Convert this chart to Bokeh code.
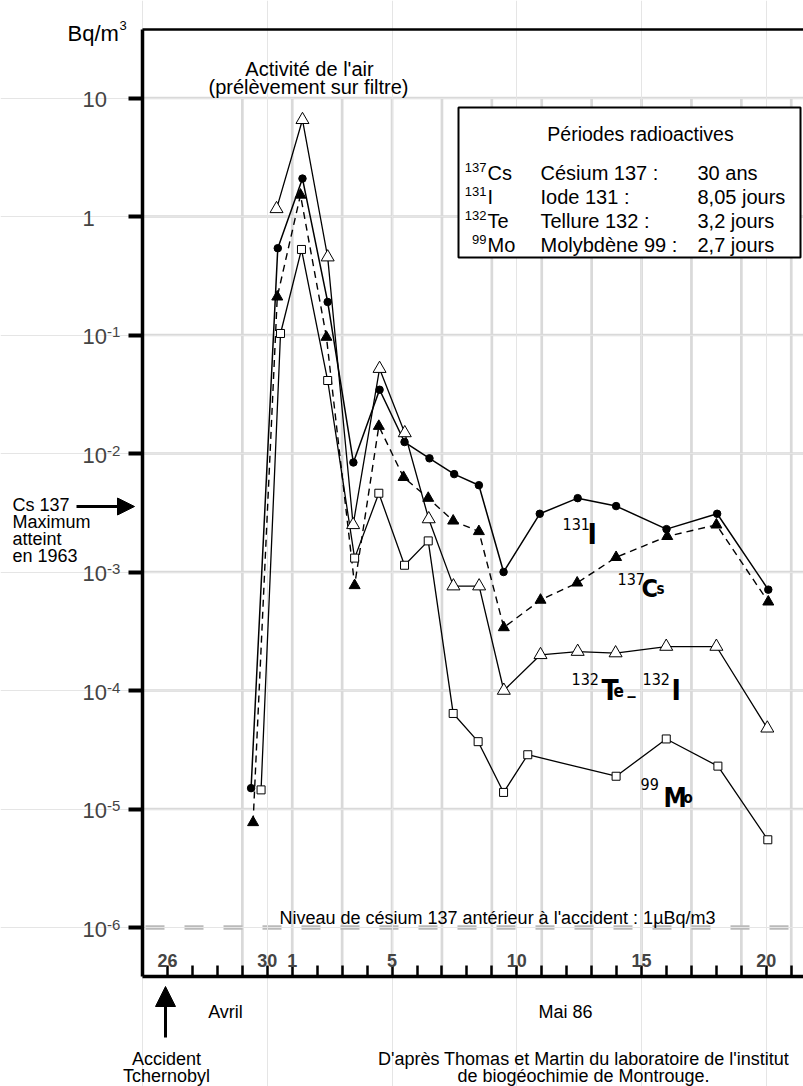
from bokeh.plotting import figure
from bokeh.models import (Range1d, LinearAxis, LogAxis, FixedTicker,
                          BoxAnnotation, Label, Arrow, NormalHead, CustomJSTickFormatter)
from bokeh.embed import file_html
from bokeh.resources import INLINE

# ---------------- data (day: 26 = 26 avril, 31 = 1 mai, 50 = 20 mai) ----------------
i131_day = [29.35, 30.42, 31.41, 32.42, 33.45, 34.5, 35.5, 36.5, 37.49, 38.48, 39.47,
            40.92, 42.44, 43.98, 46.0, 48.03, 50.08]
i131_val = [1.5e-5, 0.54, 2.09, 0.19, 0.0084, 0.0345, 0.0125, 0.0091, 0.0067, 0.0054, 0.001,
            0.0031, 0.0042, 0.0036, 0.0023, 0.0031, 0.00071]

cs137_day = [29.43, 30.4, 31.33, 32.37, 33.5, 34.47, 35.46, 36.45, 37.45, 38.48, 39.48,
             40.95, 42.42, 43.98, 46.03, 48.0, 50.08]
cs137_val = [7.7e-6, 0.21, 1.52, 0.096, 0.00077, 0.017, 0.0063, 0.0042, 0.0027, 0.0022, 0.00034,
             0.00058, 0.00081, 0.00133, 0.0020, 0.0025, 0.00056]

te132_day = [30.37, 31.41, 32.42, 33.44, 34.5, 35.51, 36.47, 37.46, 38.49, 39.48,
             40.95, 42.44, 43.96, 45.99, 48.0, 50.04]
te132_val = [1.16, 6.55, 0.454, 0.0025, 0.052, 0.0149, 0.0028, 0.00076, 0.00076, 0.0001,
             0.0002, 0.000213, 0.000207, 0.000235, 0.000235, 4.8e-5]

mo99_day = [29.75, 30.53, 31.37, 32.42, 33.5, 34.47, 35.5, 36.45, 37.45, 38.45, 39.47,
            40.44, 43.98, 45.99, 48.06, 50.06]
mo99_val = [1.45e-5, 0.103, 0.527, 0.0413, 0.00131, 0.00462, 0.00114, 0.00183, 6.4e-5, 3.7e-5,
            1.38e-5, 2.87e-5, 1.89e-5, 3.9e-5, 2.3e-5, 5.5e-6]

ytick_vals = [10, 1, 0.1, 0.01, 0.001, 1e-4, 1e-5, 1e-6]
ytick_base = ["10", "1", "10", "10", "10", "10", "10", "10"]
ytick_exp = ["", "", "-1", "-2", "-3", "-4", "-5", "-6"]
ygrid_vals = [10, 1, 0.1, 0.01, 0.001, 1e-4, 1e-5]
baseline_level = 1e-6

xtick_all = list(range(26, 52))
xtick_days = [26, 30, 31, 35, 40, 45, 50]
xtick_text = ["26", "30", "1", "5", "10", "15", "20"]
grid_days = list(range(29, 52, 2))

legend_rows = [("137", "Cs", "Césium 137 :", "30 ans"),
               ("131", "I", "Iode 131 :", "8,05 jours"),
               ("132", "Te", "Tellure 132 :", "3,2 jours"),
               ("99", "Mo", "Molybdène 99  :", "2,7 jours")]

# ---------------- geometry (picture pixels) ----------------
X0_PX, X0_DAY, PX_PER_DAY = 167.0, 26.0, 24.95
Y0_PX, PX_PER_DEC = 97.5, 118.5
AX_L, AX_R, AX_T, AX_B = 142, 803, 29, 976
W, H = 803, 1086


def dx(px):
    return X0_DAY + (px - X0_PX) / PX_PER_DAY


def dy(py):
    return 10 ** (1 - (py - Y0_PX) / PX_PER_DEC)


SANS = "Liberation Sans"
COND = "Liberation Sans Narrow, DejaVu Sans Condensed, Roboto"

p = figure(width=W, height=H, output_backend="svg", toolbar_location=None,
           x_range=Range1d(dx(0), dx(W)), y_range=Range1d(dy(H), dy(0)),
           y_axis_type="log", x_axis_location=None, y_axis_location=None,
           min_border=0)
p.min_border_left = 0
p.min_border_right = 0
p.min_border_top = 0
p.min_border_bottom = 0
p.outline_line_color = None
p.background_fill_color = "white"
p.border_fill_color = "white"

blank = CustomJSTickFormatter(code="return ''")

GRID_COL = "#d9d9d9"
# grid lines (behind everything)
p.segment(x0=[dx(AX_L)] * len(ygrid_vals), y0=ygrid_vals,
          x1=[dx(AX_R)] * len(ygrid_vals), y1=ygrid_vals,
          line_color=GRID_COL, line_width=2.7, level="underlay")
p.segment(x0=grid_days, y0=[ygrid_vals[0]] * len(grid_days),
          x1=grid_days, y1=[dy(AX_B)] * len(grid_days),
          line_color=GRID_COL, line_width=2.7, level="underlay")
p.segment(x0=[dx(AX_L + 3)], y0=[baseline_level], x1=[dx(AX_R)], y1=[baseline_level],
          line_color="#bababa", line_width=4.5, line_dash="19 20", level="underlay")

yaxis = LogAxis(ticker=FixedTicker(ticks=ytick_vals), formatter=blank,
                fixed_location=dx(AX_L), bounds=(dy(AX_B), dy(AX_T)),
                axis_line_width=3.5, axis_line_color="black",
                major_tick_out=14, major_tick_in=0, major_tick_line_width=4,
                minor_tick_out=0, minor_tick_in=0, major_label_text_font_size="1px")
p.add_layout(yaxis, "left")

xaxis = LinearAxis(ticker=FixedTicker(ticks=xtick_all), formatter=blank,
                   fixed_location=dy(AX_B), bounds=(dx(AX_L), dx(AX_R)),
                   axis_line_width=3.5, axis_line_color="black",
                   major_tick_in=11, major_tick_out=0, major_tick_line_width=2.5,
                   minor_tick_out=0, minor_tick_in=0, major_label_text_font_size="1px")
p.add_layout(xaxis, "below")

topaxis = LinearAxis(ticker=FixedTicker(ticks=[]), formatter=blank,
                     fixed_location=dy(AX_T), bounds=(dx(AX_L), dx(AX_R)),
                     axis_line_width=2.5, axis_line_color="black",
                     major_tick_in=0, major_tick_out=0, minor_tick_out=0, minor_tick_in=0,
                     major_label_text_font_size="1px")
p.add_layout(topaxis, "above")

# ---------------- series ----------------
p.line(te132_day, te132_val, line_color="black", line_width=1.3)
p.line(mo99_day, mo99_val, line_color="black", line_width=1.3)
p.line(i131_day, i131_val, line_color="black", line_width=1.5)
p.line(cs137_day, cs137_val, line_color="black", line_width=1.4, line_dash="7 5")
p.scatter(mo99_day, mo99_val, marker="square", size=8, fill_color="white",
          line_color="black", line_width=1)
p.scatter(te132_day, te132_val, marker="triangle", size=13, fill_color="white",
          line_color="black", line_width=1)
p.scatter(cs137_day, cs137_val, marker="triangle", size=11, fill_color="black",
          line_color="black")
p.scatter(i131_day, i131_val, marker="circle", size=7.5, fill_color="black",
          line_color="black")


def lab(text, px, py, size, align="left", bold=False, font=SANS):
    p.add_layout(Label(x=dx(px), y=dy(py), text=text, text_font=font,
                       text_font_size=f"{size}px",
                       text_font_style="bold" if bold else "normal",
                       text_align=align, text_baseline="alphabetic", text_color="black"))


# y tick labels
for v, b, e in zip(ytick_vals, ytick_base, ytick_exp):
    p.add_layout(Label(x=dx(82), y=v, y_offset=-1.5, text=b, text_font=SANS,
                       text_font_size="22px", text_baseline="alphabetic", text_align="left"))
    if e:
        p.add_layout(Label(x=dx(82), y=v, x_offset=24.5, y_offset=3, text=e, text_font=SANS,
                           text_font_size="15px", text_baseline="alphabetic", text_align="left"))

# x tick labels (inside, above axis)
for d, t in zip(xtick_days, xtick_text):
    p.add_layout(Label(x=d, y=dy(960), text=t, text_font=SANS, text_font_size="18px",
                       text_font_style="bold", text_align="center", text_baseline="alphabetic"))

lab("Bq/m", 67, 33, 22)
lab("3", 119, 25, 13)
lab("Activité de l'air", 309, 68, 20, align="center")
lab("(prélèvement sur filtre)", 308, 86, 20, align="center")
lab("Niveau de césium 137 antérieur à l'accident : 1µBq/m3", 497, 917, 18, align="center")
lab("Avril", 225, 1011, 18, align="center")
lab("Mai 86", 565, 1011, 18, align="center")
lab("Accident", 166, 1058, 18, align="center")
lab("Tchernobyl", 166, 1075, 18, align="center")
lab("D'après Thomas et Martin du laboratoire de l'institut", 583, 1058, 18, align="center")
lab("de biogéochimie de Montrouge.", 583, 1075, 18, align="center")
for i, t in enumerate(["Cs 137", "Maximum", "atteint", "en 1963"]):
    lab(t, 12, 504 + 17 * i, 18)

p.add_layout(Arrow(end=NormalHead(size=20, fill_color="black", line_color="black"),
                   x_start=dx(165), y_start=dy(1037), x_end=dx(165), y_end=dy(986),
                   line_width=3, line_color="black"))
p.add_layout(Arrow(end=NormalHead(size=17, fill_color="black", line_color="black"),
                   x_start=dx(76), y_start=dy(506), x_end=dx(134), y_end=dy(506),
                   line_width=3, line_color="black"))

# legend box
p.add_layout(BoxAnnotation(left=dx(458), right=dx(800), top=dy(107), bottom=dy(257),
                           fill_color="white", fill_alpha=1.0, line_color="black",
                           line_width=2, line_alpha=1.0))
lab("Périodes radioactives", 640, 133, 19.5, align="center")
for i, (mass, sym, name, per) in enumerate(legend_rows):
    yb = 172 + 24 * i
    lab(mass, 486, yb - 5, 13, align="right")
    lab(sym, 487, yb, 20)
    lab(name, 540, yb, 20)
    lab(per, 697, yb, 20)

# series labels in the plot
lab("131", 562, 523, 16, font=COND)
lab("I", 587, 534, 28, bold=True, font=COND)
lab("137", 617, 578, 16, font=COND)
lab("C", 641, 588, 25, bold=True, font=COND)
lab("s", 656, 588, 15, bold=True, font=COND)
lab("132", 571, 678, 16, font=COND)
lab("T", 601, 690, 28, bold=True, font=COND)
lab("e", 613, 690, 17, bold=True, font=COND)
lab("_", 627, 687, 18, bold=True, font=COND)
lab("132", 642, 678, 16, font=COND)
lab("I", 671, 690, 28, bold=True, font=COND)
lab("99", 640, 783, 16, font=COND)
lab("M", 663, 797, 26, bold=True, font=COND)
lab("o", 683, 797, 15, bold=True, font=COND)

open("out.html", "w").write(file_html(p, INLINE))
